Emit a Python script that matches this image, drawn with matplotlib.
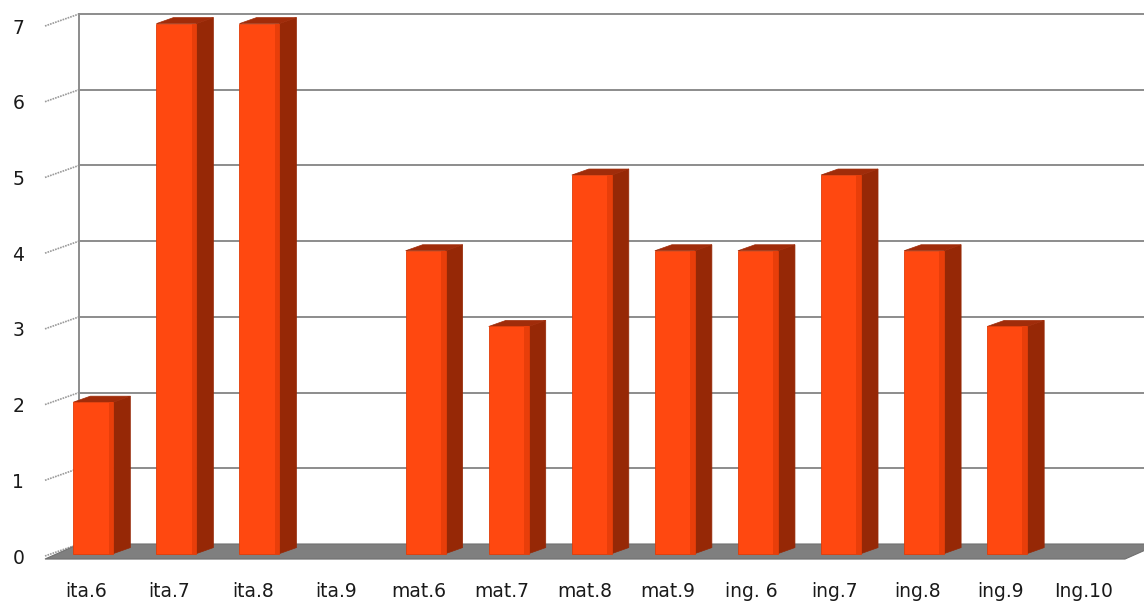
import matplotlib
matplotlib.use("Agg")
import matplotlib.pyplot as plt
from matplotlib.patches import Polygon

categories = ["ita.6", "ita.7", "ita.8", "ita.9", "mat.6", "mat.7", "mat.8",
              "mat.9", "ing. 6", "ing.7", "ing.8", "ing.9", "Ing.10"]
values = [2, 7, 7, 0, 4, 3, 5, 4, 4, 5, 4, 3, 0]
y_ticks = [0, 1, 2, 3, 4, 5, 6, 7]

W, H = 1144, 601
fig = plt.figure(figsize=(W / 100, H / 100), dpi=100)
fig.patch.set_facecolor("white")

# front plane of the 3D box, in figure pixels
fx0, fx1, fy0, fy1 = 45, 1125, 556, 26
ax = fig.add_axes([fx0 / W, 1 - fy0 / H, (fx1 - fx0) / W, (fy0 - fy1) / H])
n = len(categories)
ax.set_xlim(-0.5, n - 0.5)
ax.set_ylim(0, 7)
ax.patch.set_visible(False)
for s in ax.spines.values():
    s.set_visible(False)

# depth of the box in data units
px_x = (fx1 - fx0) / n
px_y = (fy0 - fy1) / 7
DX = 34 / px_x
DY = 12 / px_y

grid_c = "#8c8c8c"
xl, xr = -0.5, n - 0.5

# floor slab
floor = Polygon([(xl, -0.04), (xr, -0.04), (xr + DX, DY), (xl + DX, DY)],
                closed=True, facecolor="#7f7f7f", edgecolor="#6f6f6f",
                lw=0.8, zorder=1, clip_on=False)
ax.add_patch(floor)

# back wall and side wall grid
for v in y_ticks:
    if v > 0:
        ax.plot([xl + DX, xr + DX], [v + DY, v + DY], color=grid_c, lw=1.4,
                zorder=0.5, clip_on=False)
    ax.plot([xl, xl + DX], [v, v + DY], color="#9a9a9a", lw=1.2, ls=(0, (1, 0.6)),
            zorder=0.5, clip_on=False)
ax.plot([xl + DX, xl + DX], [DY, 7 + DY], color=grid_c, lw=1.4, zorder=0.5,
        clip_on=False)

# bars, set slightly behind the front plane
bw = 40 / px_x
front_c = "#ff4810"
side_c = "#962806"
top_c = "#a02c0a"
dz0, dz1 = 0.2, 0.5
for i, v in enumerate(values):
    if v <= 0:
        continue
    x0 = i - bw / 2 + dz0 * DX
    x1 = x0 + bw
    y0 = dz0 * DY
    y1 = v + dz0 * DY
    ddx, ddy = dz1 * DX, dz1 * DY
    ax.add_patch(Polygon([(x1, y0), (x1 + ddx, y0 + ddy), (x1 + ddx, y1 + ddy), (x1, y1)],
                         closed=True, facecolor=side_c, edgecolor=side_c, lw=0.5,
                         zorder=3, clip_on=False))
    ax.add_patch(Polygon([(x0, y1), (x1, y1), (x1 + ddx, y1 + ddy), (x0 + ddx, y1 + ddy)],
                         closed=True, facecolor=top_c, edgecolor=top_c, lw=0.5,
                         zorder=3, clip_on=False))
    ax.add_patch(Polygon([(x0, y0), (x1, y0), (x1, y1), (x0, y1)],
                         closed=True, facecolor=front_c, edgecolor="#e03c08", lw=0.6,
                         zorder=4, clip_on=False))
    # slight shading along the right edge of the front face
    sw = bw * 0.12
    ax.add_patch(Polygon([(x1 - sw, y0), (x1, y0), (x1, y1), (x1 - sw, y1)],
                         closed=True, facecolor="#e83e0a", edgecolor="none",
                         zorder=4.5, clip_on=False))

ax.set_xticks(range(n))
ax.set_xticklabels(categories)
ax.set_yticks(y_ticks)
ax.set_yticklabels([str(t) for t in y_ticks])
ax.tick_params(axis="x", length=0, pad=19, labelsize=13.5, labelcolor="#1a1a1a")
ax.tick_params(axis="y", length=0, pad=15, labelsize=13.5, labelcolor="#1a1a1a")
for lab in ax.get_xticklabels() + ax.get_yticklabels():
    lab.set_fontfamily("DejaVu Sans")

fig.savefig("out.png", dpi=100, facecolor="white")
